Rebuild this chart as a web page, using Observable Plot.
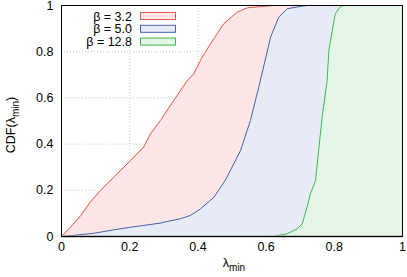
<!DOCTYPE html>
<html>
<head>
<meta charset="utf-8">
<script src="https://cdn.jsdelivr.net/npm/d3@7"></script>
<script src="https://cdn.jsdelivr.net/npm/@observablehq/plot@0.6"></script>
<style>
  html, body { margin: 0; padding: 0; background: #fff; }
  #chart svg { display: block; }
</style>
</head>
<body>
<div id="chart"></div>
<script>
// ---- data ----
const seriesLabels = ["β = 3.2", "β = 5.0", "β = 12.8"];

const redX = [0, 0.02, 0.056, 0.085, 0.114, 0.153, 0.183, 0.202, 0.241, 0.261, 0.290, 0.329, 0.369, 0.388, 0.41, 0.437, 0.476, 0.515, 0.545, 0.59, 0.62, 1];
const redY = [0, 0.03, 0.09, 0.15, 0.199, 0.257, 0.30, 0.329, 0.387, 0.445, 0.502, 0.589, 0.675, 0.704, 0.77, 0.834, 0.921, 0.971, 0.99, 0.996, 1, 1];

const blueX = [0, 0.03, 0.095, 0.153, 0.202, 0.241, 0.29, 0.30, 0.349, 0.378, 0.408, 0.447, 0.481, 0.525, 0.554, 0.579, 0.60, 0.613, 0.637, 0.662, 0.70, 0.72, 1];
const blueY = [0, 0.004, 0.014, 0.029, 0.040, 0.048, 0.058, 0.062, 0.077, 0.091, 0.12, 0.17, 0.245, 0.372, 0.502, 0.65, 0.78, 0.863, 0.949, 0.986, 0.996, 1, 1];

const greenX = [0, 0.62, 0.662, 0.691, 0.706, 0.72, 0.73, 0.745, 0.754, 0.765, 0.779, 0.784, 0.794, 0.803, 0.818, 0.83, 1];
const greenY = [0, 0, 0.012, 0.033, 0.055, 0.127, 0.185, 0.242, 0.372, 0.524, 0.675, 0.805, 0.892, 0.964, 0.996, 1, 1];

const xTicks = [0, 0.2, 0.4, 0.6, 0.8, 1];
const yTicks = [0, 0.2, 0.4, 0.6, 0.8, 1];

// ---- build ----
const lineColors = ["#ec5a4c", "#4561ad", "#3cb94c"];
const fillColors = ["#fde6e5", "#e6ebf5", "#e5f5e8"];
const toRows = (xs, ys) => xs.map((x, i) => ({x, y: ys[i]}));
const series = [toRows(redX, redY), toRows(blueX, blueY), toRows(greenX, greenY)];
const fmt = d3.format("~g");
const grid = {stroke: "#c8c8c8", strokeDasharray: "1,2", strokeWidth: 1, strokeOpacity: 1};
const font = "'Liberation Sans', Arial, Helvetica, sans-serif";
const fs = "12.5px";

const marks = [
  Plot.ruleX(xTicks.slice(1, -1), grid),
  Plot.ruleY(yTicks.slice(1, -1), grid)
];
series.forEach((rows, i) => {
  marks.push(Plot.areaY(rows, {x: "x", y: "y", fill: fillColors[i]}));
  marks.push(Plot.line(rows, {x: "x", y: "y", stroke: lineColors[i], strokeWidth: 1}));
});
marks.push(
  Plot.ruleY([0], {stroke: "#9a9a9a", strokeWidth: 2}),
  Plot.frame({stroke: "#000", strokeWidth: 1}),
  Plot.axisX(xTicks, {tickSize: 0, tickPadding: 6, tickFormat: fmt}),
  Plot.axisY(yTicks, {tickSize: 0, tickPadding: 8, tickFormat: fmt})
);

const chart = Plot.plot({
  width: 407,
  height: 277,
  marginLeft: 61,
  marginRight: 5,
  marginTop: 5,
  marginBottom: 41,
  x: {domain: [0, 1], label: null},
  y: {domain: [0, 1], label: null},
  style: {fontFamily: font, fontSize: fs, color: "#000", background: "#fff"},
  marks
});
document.getElementById("chart").append(chart);

// ---- axis labels and legend ----
const svg = d3.select(chart);

const xl = svg.append("text")
  .attr("x", 234).attr("y", 267)
  .attr("text-anchor", "middle")
  .attr("font-family", font).attr("font-size", fs).attr("fill", "#000");
xl.append("tspan").text("λ");
xl.append("tspan").attr("dy", 4).attr("font-size", "10px").text("min");

const yl = svg.append("text")
  .attr("transform", "translate(15,125) rotate(-90)")
  .attr("text-anchor", "middle")
  .attr("font-family", font).attr("font-size", fs).attr("fill", "#000");
yl.append("tspan").text("CDF(λ");
yl.append("tspan").attr("dy", 4).attr("font-size", "10px").text("min");
yl.append("tspan").attr("dy", -4).text(")");

const lg = svg.append("g");
seriesLabels.forEach((label, i) => {
  const cy = 16 + i * 12.8;
  lg.append("text")
    .attr("x", 132).attr("y", cy).attr("dy", "0.36em")
    .attr("text-anchor", "end")
    .attr("font-family", font).attr("font-size", fs).attr("fill", "#000")
    .text(label);
  lg.append("rect")
    .attr("x", 140.5).attr("y", cy - 3.5)
    .attr("width", 35).attr("height", 7)
    .attr("fill", fillColors[i]).attr("stroke", lineColors[i]).attr("stroke-width", 1);
});
</script>
</body>
</html>
